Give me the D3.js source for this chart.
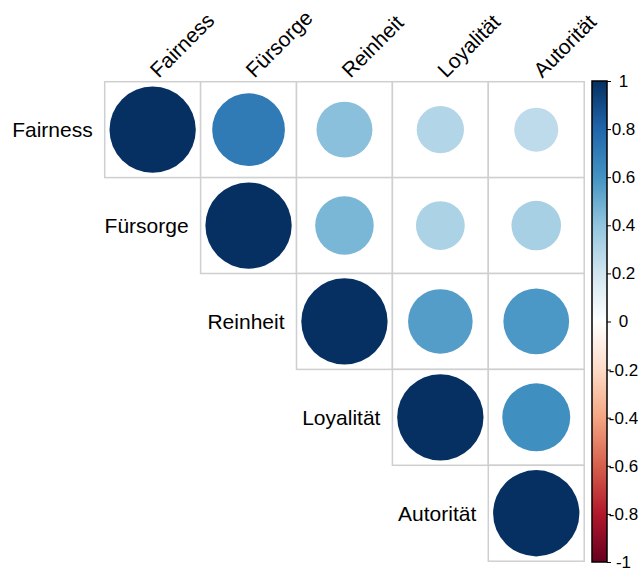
<!DOCTYPE html>
<html>
<head>
<meta charset="utf-8">
<script src="https://cdn.jsdelivr.net/npm/d3@7/dist/d3.min.js"></script>
<style>
  html, body { margin: 0; padding: 0; background: #ffffff; }
  svg { display: block; font-family: "Liberation Sans", Arial, sans-serif; }
</style>
</head>
<body>
<svg id="chart" width="640" height="569"></svg>
<script>
// Variable names (rows and columns of the correlation matrix)
const variables = ["Fairness", "Fürsorge", "Reinheit", "Loyalität", "Autorität"];

// Upper-triangle correlations, one array per row (null = lower triangle, not drawn)
const corFairness  = [1.00, 0.71, 0.42, 0.30, 0.26];
const corFuersorge = [null, 1.00, 0.46, 0.32, 0.33];
const corReinheit  = [null, null, 1.00, 0.56, 0.58];
const corLoyalitaet = [null, null, null, 1.00, 0.62];
const corAutoritaet = [null, null, null, null, 1.00];
const corRows = [corFairness, corFuersorge, corReinheit, corLoyalitaet, corAutoritaet];

// Colour legend ticks
const legendTicks = [1, 0.8, 0.6, 0.4, 0.2, 0, -0.2, -0.4, -0.6, -0.8, -1];

// Diverging RdBu palette, negative to positive
const paletteStops = [-1, -0.8, -0.6, -0.4, -0.2, 0, 0.2, 0.4, 0.6, 0.8, 1];
const paletteColors = ["#67001F", "#B2182B", "#D6604D", "#F4A582", "#FDDBC7", "#FFFFFF",
                       "#D1E5F0", "#92C5DE", "#4393C3", "#2166AC", "#053061"];

const svg = d3.select("#chart");

const gridLeft = 104.7, gridTop = 81.7, cell = 95.9;
const n = variables.length;

const x = d3.scaleBand().domain(variables).range([gridLeft, gridLeft + n * cell]).padding(0);
const y = d3.scaleBand().domain(variables).range([gridTop, gridTop + n * cell]).padding(0);
const color = d3.scaleLinear().domain(paletteStops).range(paletteColors).interpolate(d3.interpolateRgb);
const radius = d3.scaleSqrt().domain([0, 1]).range([0, cell * 0.45]);

// Flatten the upper triangle into cells
const cells = [];
corRows.forEach((row, i) => {
  row.forEach((v, j) => {
    if (v !== null) cells.push({ row: variables[i], col: variables[j], value: v });
  });
});

const g = svg.append("g");

// Cell borders
g.selectAll("rect.cell")
  .data(cells)
  .join("rect")
  .attr("class", "cell")
  .attr("x", d => x(d.col))
  .attr("y", d => y(d.row))
  .attr("width", x.bandwidth())
  .attr("height", y.bandwidth())
  .attr("fill", "#ffffff")
  .attr("stroke", "#cfcfcf")
  .attr("stroke-width", 1.5);

// Circles: area proportional to |r|, colour by r
g.selectAll("circle.corr")
  .data(cells)
  .join("circle")
  .attr("class", "corr")
  .attr("cx", d => x(d.col) + x.bandwidth() / 2)
  .attr("cy", d => y(d.row) + y.bandwidth() / 2)
  .attr("r", d => radius(Math.abs(d.value)))
  .attr("fill", d => color(d.value));

// Row labels, to the left of the diagonal cell
g.selectAll("text.rowlab")
  .data(variables)
  .join("text")
  .attr("class", "rowlab")
  .attr("x", d => x(d) - 12)
  .attr("y", d => y(d) + y.bandwidth() / 2)
  .attr("dy", "0.35em")
  .attr("text-anchor", "end")
  .attr("font-size", 21)
  .attr("fill", "#000000")
  .text(d => d);

// Column labels, rotated 45 degrees above the grid
g.selectAll("text.collab")
  .data(variables)
  .join("text")
  .attr("class", "collab")
  .attr("transform", d => `translate(${x(d) + x.bandwidth() / 2 + 6},${gridTop - 3}) rotate(-45)`)
  .attr("text-anchor", "start")
  .attr("font-size", 21)
  .attr("fill", "#000000")
  .text(d => d);

// Colour legend
const barX = 592, barW = 15, barTop = 81, barBottom = 562;
const legendScale = d3.scaleLinear().domain([-1, 1]).range([barBottom, barTop]);

const defs = svg.append("defs");
const grad = defs.append("linearGradient")
  .attr("id", "legendGrad")
  .attr("x1", 0).attr("y1", 1).attr("x2", 0).attr("y2", 0);
paletteStops.forEach((s, i) => {
  grad.append("stop")
    .attr("offset", (s + 1) / 2)
    .attr("stop-color", paletteColors[i]);
});

svg.append("rect")
  .attr("x", barX)
  .attr("y", barTop)
  .attr("width", barW)
  .attr("height", barBottom - barTop)
  .attr("fill", "url(#legendGrad)")
  .attr("stroke", "#000000")
  .attr("stroke-width", 1.5);

const axis = d3.axisRight(legendScale)
  .tickValues(legendTicks)
  .tickSize(4)
  .tickPadding(0)
  .tickFormat(d => (d === 0 ? "0" : d3.format("")(+d.toFixed(1))).replace("−", "-"));

const axG = svg.append("g")
  .attr("transform", `translate(${barX + barW},0)`)
  .call(axis);
axG.select(".domain").remove();
axG.selectAll(".tick line").attr("stroke", "#000000").attr("stroke-width", 1);
axG.selectAll(".tick text")
  .attr("x", 16.5)
  .attr("text-anchor", "middle")
  .attr("font-size", 17)
  .attr("font-family", "'Liberation Sans', Arial, sans-serif")
  .attr("fill", "#000000");
</script>
</body>
</html>
